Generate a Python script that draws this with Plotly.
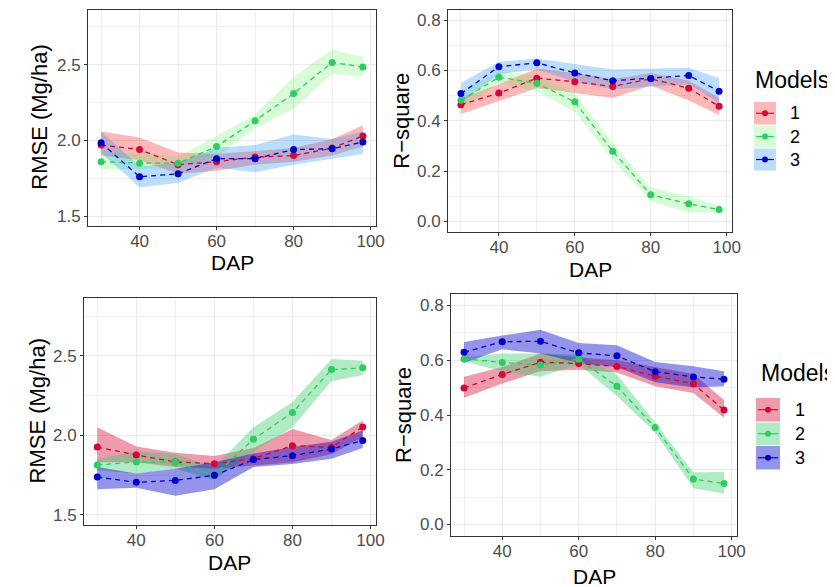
import plotly.graph_objects as go

# ---------------- data ----------------
DAP = [30, 40, 50, 60, 70, 80, 90, 98]
MODELS = ["1", "2", "3"]

# top row, RMSE (Mg/ha)
rmse_a_1 = [1.97, 1.94, 1.84, 1.86, 1.89, 1.90, 1.95, 2.03]
rmse_a_1_lo = [1.90, 1.87, 1.78, 1.80, 1.84, 1.86, 1.90, 1.96]
rmse_a_1_hi = [2.06, 2.02, 1.92, 1.91, 1.93, 1.95, 2.01, 2.10]
rmse_a_2 = [1.86, 1.85, 1.85, 1.96, 2.13, 2.31, 2.515, 2.485]
rmse_a_2_lo = [1.81, 1.81, 1.82, 1.89, 2.08, 2.21, 2.44, 2.42]
rmse_a_2_hi = [1.92, 1.92, 1.89, 2.03, 2.17, 2.42, 2.60, 2.55]
rmse_a_3 = [1.985, 1.76, 1.78, 1.88, 1.88, 1.94, 1.945, 1.99]
rmse_a_3_lo = [1.92, 1.69, 1.72, 1.82, 1.79, 1.84, 1.88, 1.91]
rmse_a_3_hi = [2.06, 1.83, 1.85, 1.95, 1.97, 2.04, 2.01, 2.06]

# top row, R-square
r2_a_1 = [0.464, 0.51, 0.569, 0.555, 0.536, 0.567, 0.529, 0.458]
r2_a_1_lo = [0.427, 0.478, 0.53, 0.51, 0.49, 0.54, 0.48, 0.423]
r2_a_1_hi = [0.49, 0.545, 0.608, 0.59, 0.565, 0.59, 0.56, 0.49]
r2_a_2 = [0.481, 0.573, 0.549, 0.475, 0.279, 0.106, 0.07, 0.047]
r2_a_2_lo = [0.445, 0.55, 0.515, 0.435, 0.245, 0.08, 0.035, 0.035]
r2_a_2_hi = [0.515, 0.595, 0.58, 0.51, 0.31, 0.135, 0.10, 0.062]
r2_a_3 = [0.508, 0.615, 0.63, 0.59, 0.559, 0.568, 0.58, 0.517]
r2_a_3_lo = [0.47, 0.585, 0.605, 0.555, 0.525, 0.535, 0.545, 0.47]
r2_a_3_hi = [0.55, 0.634, 0.647, 0.625, 0.604, 0.608, 0.611, 0.569]

# bottom row, RMSE (Mg/ha)
rmse_b_1 = [1.926, 1.876, 1.832, 1.821, 1.853, 1.935, 1.924, 2.053]
rmse_b_1_lo = [1.83, 1.83, 1.80, 1.79, 1.81, 1.83, 1.88, 1.99]
rmse_b_1_hi = [2.05, 1.93, 1.89, 1.87, 1.92, 2.04, 1.97, 2.095]
rmse_b_2 = [1.813, 1.832, 1.83, 1.748, 1.975, 2.143, 2.414, 2.425]
rmse_b_2_lo = [1.78, 1.76, 1.79, 1.72, 1.895, 2.05, 2.34, 2.38]
rmse_b_2_hi = [1.85, 1.90, 1.88, 1.80, 2.05, 2.21, 2.48, 2.47]
rmse_b_3 = [1.737, 1.704, 1.716, 1.748, 1.847, 1.872, 1.914, 1.968]
rmse_b_3_lo = [1.66, 1.67, 1.62, 1.66, 1.80, 1.82, 1.853, 1.92]
rmse_b_3_hi = [1.80, 1.76, 1.79, 1.83, 1.885, 1.926, 1.96, 2.03]

# bottom row, R-square
r2_b_1 = [0.499, 0.548, 0.593, 0.588, 0.577, 0.542, 0.514, 0.418]
r2_b_1_lo = [0.463, 0.515, 0.56, 0.565, 0.555, 0.505, 0.48, 0.39]
r2_b_1_hi = [0.54, 0.575, 0.625, 0.61, 0.60, 0.575, 0.55, 0.455]
r2_b_2 = [0.605, 0.592, 0.583, 0.604, 0.505, 0.354, 0.166, 0.150]
r2_b_2_lo = [0.595, 0.56, 0.54, 0.585, 0.469, 0.336, 0.132, 0.112]
r2_b_2_hi = [0.61, 0.625, 0.625, 0.62, 0.548, 0.372, 0.19, 0.193]
r2_b_3 = [0.629, 0.668, 0.669, 0.627, 0.616, 0.558, 0.539, 0.531]
r2_b_3_lo = [0.59, 0.64, 0.625, 0.59, 0.575, 0.52, 0.50, 0.505]
r2_b_3_hi = [0.667, 0.69, 0.711, 0.663, 0.655, 0.594, 0.578, 0.56]

X_TITLE = "DAP"
Y_TITLES = ["RMSE (Mg/ha)", "R−square", "RMSE (Mg/ha)", "R−square"]

# ---------------- styles ----------------
W, H = 835, 587
OFF = 8  # page body margin offset
LINE_COLORS = ["#D7063A", "#2ECC63", "#0000CD"]
FILL_TOP = ["rgba(255,0,0,0.28)", "rgba(60,240,60,0.2)", "rgba(30,144,255,0.3)"]
FILL_BOT = ["rgba(215,20,60,0.42)", "rgba(46,204,100,0.38)", "rgba(0,0,205,0.42)"]
FONT = "Liberation Sans, Arial, sans-serif"


def px(x):
    return min(max((x - OFF) / W, 0), 1)


def py(y):
    return min(max(1 - (y - OFF) / H, 0), 1)


panels = [
    # suffix, series, fills, x-px, y-px, yrange, dtick, x-title y px, y-title x px
    ("", [(rmse_a_1, rmse_a_1_lo, rmse_a_1_hi), (rmse_a_2, rmse_a_2_lo, rmse_a_2_hi),
          (rmse_a_3, rmse_a_3_lo, rmse_a_3_hi)], FILL_TOP, (88, 376), (9.5, 226),
     [1.435, 2.865], 0.5, 262, 40),
    ("2", [(r2_a_1, r2_a_1_lo, r2_a_1_hi), (r2_a_2, r2_a_2_lo, r2_a_2_hi),
           (r2_a_3, r2_a_3_lo, r2_a_3_hi)], FILL_TOP, (448, 732), (9.5, 232),
     [-0.042, 0.842], 0.2, 269, 402),
    ("3", [(rmse_b_1, rmse_b_1_lo, rmse_b_1_hi), (rmse_b_2, rmse_b_2_lo, rmse_b_2_hi),
           (rmse_b_3, rmse_b_3_lo, rmse_b_3_hi)], FILL_BOT, (84, 376), (298, 525),
     [1.435, 2.865], 0.5, 562, 37),
    ("4", [(r2_b_1, r2_b_1_lo, r2_b_1_hi), (r2_b_2, r2_b_2_lo, r2_b_2_hi),
           (r2_b_3, r2_b_3_lo, r2_b_3_hi)], FILL_BOT, (451, 737), (294, 536),
     [-0.042, 0.842], 0.2, 576, 403),
]

fig = go.Figure()
layout = dict(
    width=W, height=H, margin=dict(l=0, r=0, t=0, b=0),
    paper_bgcolor="white", plot_bgcolor="white", showlegend=False,
    font=dict(family=FONT),
)

for (suf, series, fills, xd, yd, yr, dt, xty, ytx), ytitle in zip(panels, Y_TITLES):
    xa, ya = "x" + suf, "y" + suf
    for (vals, lo, hi), fc in zip(series, fills):
        fig.add_trace(go.Scatter(
            x=DAP + DAP[::-1], y=lo + hi[::-1], fill="toself", fillcolor=fc,
            line=dict(width=0), mode="lines", hoverinfo="skip", xaxis=xa, yaxis=ya))
    for (vals, lo, hi), lc, name in zip(series, LINE_COLORS, MODELS):
        fig.add_trace(go.Scatter(
            x=DAP, y=vals, mode="lines+markers", name=name,
            line=dict(color=lc, width=1.3, dash="5px,4px"),
            marker=dict(color=lc, size=7), xaxis=xa, yaxis=ya))
    common = dict(showline=True, mirror=True, linecolor="#333333", linewidth=1,
                  ticks="outside", ticklen=3, tickcolor="#333333", tickwidth=1,
                  tickfont=dict(size=17, color="#4D4D4D", family=FONT),
                  showgrid=True, gridcolor="#EBEBEB", gridwidth=1,
                  zeroline=False, automargin=False)
    layout["xaxis" + suf] = dict(
        common, domain=[px(xd[0]), px(xd[1])], range=[26.6, 101.4],
        tick0=0, dtick=20, anchor=ya, ticklabelstandoff=-3,
        minor=dict(dtick=10, showgrid=True, gridcolor="#F0F0F0", gridwidth=0.7))
    layout["yaxis" + suf] = dict(
        common, domain=[py(yd[1]), py(yd[0])], range=yr,
        tick0=0, dtick=dt, tickformat=".1f", anchor=xa,
        minor=dict(dtick=dt / 2, showgrid=True, gridcolor="#F0F0F0", gridwidth=0.7))
    # axis titles
    fig.add_annotation(x=px((xd[0] + xd[1]) / 2), y=py(xty), xref="paper", yref="paper",
                       text=X_TITLE, showarrow=False, xanchor="center", yanchor="middle",
                       borderpad=0, font=dict(size=21, color="black", family=FONT))
    fig.add_annotation(x=px(ytx), y=py((yd[0] + yd[1]) / 2), xref="paper", yref="paper",
                       text=ytitle, textangle=-90, showarrow=False, xanchor="center",
                       yanchor="middle", font=dict(size=22, color="black", family=FONT))

fig.update_layout(**layout)

# ---------------- legends (ggplot-style keys) ----------------
legends = [
    ((753, 80), 754, 776, [(102, 124.5), (125.5, 147.5), (148.5, 170.5)], 788, FILL_TOP),
    ((759, 373), 756, 780, [(398, 421.5), (422.5, 445), (446, 469.5)], 793, FILL_BOT),
]
for (tx, ty), kx0, kx1, rows, lx, fills in legends:
    fig.add_annotation(x=px(tx), y=py(ty), xref="paper", yref="paper", text="Models",
                       showarrow=False, xanchor="left", yanchor="middle",
                       font=dict(size=23, color="black", family=FONT))
    for (r0, r1), fc, lc, name in zip(rows, fills, LINE_COLORS, MODELS):
        fig.add_shape(type="rect", xref="paper", yref="paper", x0=px(kx0), x1=px(kx1),
                      y0=py(r1), y1=py(r0), fillcolor=fc, line=dict(width=0), layer="above")
        cy = (r0 + r1) / 2
        fig.add_shape(type="line", xref="paper", yref="paper", x0=px(kx0 + 2), x1=px(kx1 - 2),
                      y0=py(cy), y1=py(cy), line=dict(color=lc, width=1.2), layer="above")
        cx = (kx0 + kx1) / 2
        fig.add_shape(type="circle", xref="paper", yref="paper", x0=px(cx - 3), x1=px(cx + 3),
                      y0=py(cy + 3), y1=py(cy - 3), fillcolor=lc, line=dict(width=0),
                      layer="above")
        fig.add_annotation(x=px(lx), y=py(cy), xref="paper", yref="paper", text=name,
                           showarrow=False, xanchor="left", yanchor="middle",
                           font=dict(size=18, color="black", family=FONT))

fig.write_html("out.html")
